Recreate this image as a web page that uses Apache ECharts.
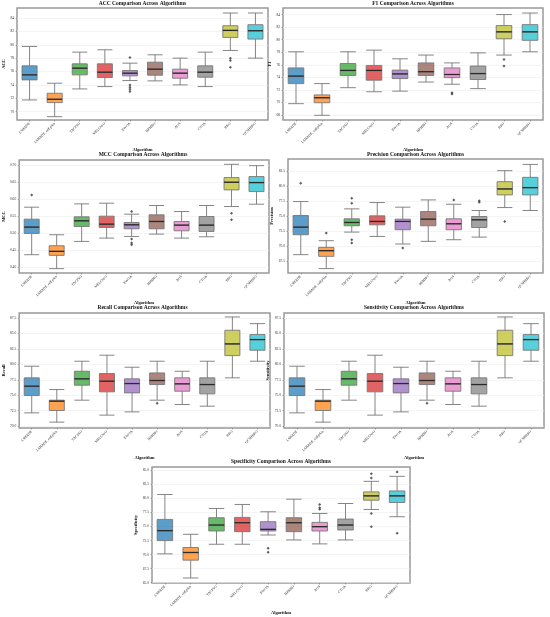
<!DOCTYPE html>
<html lang="en">
<head>
    <meta charset="UTF-8">
    <title>Comparison Across Algorithms</title>
    <script src="https://cdn.jsdelivr.net/npm/echarts@6/dist/echarts.min.js"></script>
    <style>
        html, body { margin: 0; padding: 0; background: #fff; }
    </style>
</head>
<body>
<div id="chart" style="width:550px;height:617px;"></div>
<script>
    var algorithms = ['LSHADE', 'LSHADE_cnEpSin', 'TACPSO', 'MELGWO', 'EWOA', 'HPHHO', 'AOS', 'CTOA', 'BRO', 'QCSHBRO'];
    var boxColors = ['#1f77b4', '#ff7f0e', '#2ca02c', '#d62728', '#9467bd', '#8c564b', '#e377c2', '#7f7f7f', '#bcbd22', '#17becf'];

    // [min, Q1, median, Q3, max] per algorithm
    var accBoxes = [
        [71.75, 74.75, 75.5, 76.85, 79.75],
        [69.25, 71.35, 71.85, 72.75, 74.25],
        [73.4, 75.5, 76.5, 77.15, 78.9],
        [73.75, 75.1, 75.9, 77.15, 79.25],
        [74.65, 75.35, 75.75, 76.15, 77.25],
        [74.6, 75.45, 76.35, 77.4, 78.5],
        [74.0, 75.0, 75.75, 76.35, 78.0],
        [73.75, 75.15, 75.9, 76.85, 78.9],
        [79.15, 81.1, 82.15, 82.85, 84.75],
        [78.0, 80.85, 82.1, 83.0, 84.75]
    ];
    var accOutliers = [[4, 78.1], [4, 74.0], [4, 73.65], [4, 73.35], [4, 73.0], [8, 78.0], [8, 77.65], [8, 76.65]];
    var accTicks = [70, 72, 74, 76, 78, 80, 82, 84];

    var f1Boxes = [
        [69.8, 73.0, 74.2, 75.5, 78.07],
        [67.95, 69.95, 70.75, 71.2, 73.0],
        [72.35, 74.3, 75.1, 76.2, 78.07],
        [71.7, 73.55, 75.1, 75.9, 78.33],
        [71.8, 73.8, 74.55, 75.15, 76.95],
        [73.25, 74.3, 74.9, 76.3, 77.55],
        [72.9, 73.95, 74.45, 75.5, 76.3],
        [72.2, 73.65, 74.6, 75.8, 77.9],
        [77.55, 80.15, 81.25, 82.25, 84.0],
        [78.07, 79.9, 81.25, 82.4, 84.25]
    ];
    var f1Outliers = [[6, 71.55], [6, 71.35], [8, 76.85], [8, 75.8]];
    var f1Ticks = [68, 70, 72, 74, 76, 78, 80, 82, 84];

    var mccBoxes = [
        [0.437, 0.4994, 0.5179, 0.5412, 0.5763],
        [0.3961, 0.4351, 0.4468, 0.4633, 0.4955],
        [0.476, 0.5198, 0.5364, 0.548, 0.586],
        [0.4857, 0.5169, 0.5266, 0.55, 0.588],
        [0.4906, 0.513, 0.5247, 0.5315, 0.5558],
        [0.4974, 0.513, 0.5344, 0.5539, 0.5812],
        [0.4857, 0.5071, 0.5237, 0.5344, 0.5636],
        [0.4896, 0.5052, 0.5237, 0.549, 0.5812],
        [0.5782, 0.627, 0.6494, 0.663, 0.702],
        [0.585, 0.622, 0.6484, 0.666, 0.698]
    ];
    var mccOutliers = [[0, 0.6123], [4, 0.5636], [4, 0.4828], [4, 0.4711], [4, 0.4662], [8, 0.5588], [8, 0.5393]];
    var mccTicks = [0.40, 0.45, 0.50, 0.55, 0.60, 0.65, 0.70];

    var precisionBoxes = [
        [68.6, 71.91, 73.18, 75.11, 77.43],
        [66.28, 68.32, 69.26, 69.81, 70.92],
        [72.35, 73.4, 73.95, 74.56, 76.21],
        [71.63, 73.56, 74.12, 75.05, 77.26],
        [70.37, 72.74, 74.12, 74.5, 76.49],
        [70.81, 73.4, 74.5, 75.77, 77.7],
        [71.08, 72.74, 73.73, 74.56, 76.98],
        [71.52, 73.12, 74.39, 74.94, 75.94],
        [76.43, 78.53, 79.52, 80.73, 82.56],
        [75.94, 78.53, 79.74, 81.45, 83.6]
    ];
    var precisionOutliers = [[0, 80.46], [1, 72.19], [2, 77.98], [2, 77.15], [2, 71.08], [2, 70.53], [4, 69.7], [6, 77.7], [7, 77.54], [7, 77.32], [8, 74.12]];
    var precisionTicks = [67.5, 70.0, 72.5, 75.0, 77.5, 80.0, 82.5];

    var recallBoxes = [
        [72.15, 74.95, 76.46, 77.81, 79.69],
        [70.65, 72.53, 74.04, 74.2, 75.92],
        [74.2, 76.62, 77.65, 78.88, 80.5],
        [71.78, 75.55, 77.27, 78.51, 81.47],
        [72.31, 75.38, 76.89, 77.65, 79.53],
        [74.2, 76.73, 77.38, 78.61, 80.5],
        [73.5, 75.65, 76.84, 77.81, 78.88],
        [73.23, 75.22, 76.73, 77.81, 80.5],
        [77.81, 81.41, 83.3, 85.51, 87.66],
        [80.5, 82.28, 84.0, 84.81, 86.58]
    ];
    var recallOutliers = [[5, 73.71]];
    var recallTicks = [70.0, 72.5, 75.0, 77.5, 80.0, 82.5, 85.0, 87.5];

    // sensitivity is drawn with the same values as recall in the reference
    var sensitivityBoxes = recallBoxes;
    var sensitivityOutliers = recallOutliers;
    var sensitivityTicks = recallTicks;

    var specificityBoxes = [
        [70.14, 72.5, 74.27, 76.27, 80.7],
        [65.84, 69.02, 70.38, 71.26, 73.62],
        [71.85, 74.21, 75.27, 76.57, 78.22],
        [71.85, 74.09, 75.68, 76.63, 78.93],
        [73.5, 74.21, 74.5, 75.86, 77.63],
        [72.62, 74.09, 75.68, 76.57, 79.87],
        [71.91, 74.21, 74.98, 75.74, 77.33],
        [72.62, 74.39, 75.27, 76.33, 79.1],
        [78.04, 79.69, 80.46, 81.17, 83.05],
        [76.75, 79.28, 80.46, 81.34, 83.94]
    ];
    var specificityOutliers = [[4, 71.14], [4, 70.44], [6, 78.93], [6, 78.34], [6, 78.1], [8, 84.41], [8, 83.64], [8, 77.33], [8, 74.98], [9, 84.7], [9, 73.8]];
    var specificityTicks = [65.0, 67.5, 70.0, 72.5, 75.0, 77.5, 80.0, 82.5, 85.0];

    var panels = [
        {name: 'ACC', boxes: accBoxes, outliers: accOutliers, ticks: accTicks, min: 68.75, max: 85.5, dec: 0,
            left: 17, top: 8, width: 251, height: 112, titleTop: 1},
        {name: 'F1', boxes: f1Boxes, outliers: f1Outliers, ticks: f1Ticks, min: 67.2, max: 85.05, dec: 0,
            left: 283, top: 8, width: 260, height: 112, titleTop: 1},
        {name: 'MCC', boxes: mccBoxes, outliers: mccOutliers, ticks: mccTicks, min: 0.3834, max: 0.7146, dec: 2,
            left: 17, top: 160, width: 252, height: 113, titleTop: 152},
        {name: 'Precision', boxes: precisionBoxes, outliers: precisionOutliers, ticks: precisionTicks, min: 65.55, max: 84.5, dec: 1,
            left: 288, top: 159, width: 255, height: 114, titleTop: 152},
        {name: 'Recall', boxes: recallBoxes, outliers: recallOutliers, ticks: recallTicks, min: 69.7, max: 88.3, dec: 1,
            left: 15, top: 313, width: 255, height: 115, titleTop: 305},
        {name: 'Sensitivity', boxes: sensitivityBoxes, outliers: sensitivityOutliers, ticks: sensitivityTicks, min: 69.7, max: 88.3, dec: 1,
            left: 284, top: 313, width: 260, height: 115, titleTop: 305},
        {name: 'Specificity', boxes: specificityBoxes, outliers: specificityOutliers, ticks: specificityTicks, min: 64.95, max: 85.6, dec: 1,
            left: 152, top: 467, width: 258, height: 116, titleTop: 459}
    ];

    var font = 'Liberation Serif';

    function hexToRgba(hex, a) {
        var n = parseInt(hex.slice(1), 16);
        return 'rgba(' + (n >> 16) + ',' + ((n >> 8) & 255) + ',' + (n & 255) + ',' + a + ')';
    }

    var option = {
        backgroundColor: '#fff',
        animation: false,
        title: [], grid: [], xAxis: [], yAxis: [], series: []
    };

    panels.forEach(function (p, k) {
        option.title.push({
            text: p.name + ' Comparison Across Algorithms',
            left: p.left + p.width / 2,
            top: p.titleTop,
            textAlign: 'center',
            padding: 0,
            textStyle: {fontFamily: font, fontSize: 5.5, fontWeight: 'bold', color: '#111'}
        });
        option.grid.push({
            left: p.left, top: p.top, width: p.width, height: p.height,
            show: true, borderColor: '#999', borderWidth: 1.5, backgroundColor: '#fff'
        });
        option.xAxis.push({
            type: 'category', gridIndex: k, data: algorithms,
            name: 'Algorithm', nameLocation: 'middle', nameGap: 27,
            nameTextStyle: {fontFamily: font, fontSize: 4.5, fontWeight: 'bold', color: '#111'},
            axisLine: {show: false},
            axisTick: {show: true, alignWithLabel: true, length: 1.5, lineStyle: {color: '#666', width: 0.5}},
            axisLabel: {rotate: 45, fontFamily: font, fontSize: 3.6, color: '#333', margin: 3, interval: 0},
            splitLine: {show: false}
        });
        option.yAxis.push({
            type: 'value', gridIndex: k, min: p.min, max: p.max,
            name: p.name, nameLocation: 'middle', nameGap: 10,
            nameTextStyle: {fontFamily: font, fontSize: 4.5, fontWeight: 'bold', color: '#111'},
            axisLine: {show: false},
            axisTick: {show: true, customValues: p.ticks, length: 1.5, lineStyle: {color: '#666', width: 0.5}},
            axisLabel: {
                customValues: p.ticks, fontFamily: font, fontSize: 3.6, color: '#333', margin: 3,
                formatter: function (v) { return v.toFixed(p.dec); }
            },
            splitLine: {show: true, lineStyle: {color: '#ececec', width: 0.6}}
        });
        option.series.push({
            type: 'boxplot', xAxisIndex: k, yAxisIndex: k,
            boxWidth: ['60%', '60%'],
            data: p.boxes.map(function (b, i) {
                return {value: b, itemStyle: {color: hexToRgba(boxColors[i], 0.72), borderColor: '#777', borderWidth: 0.9}};
            })
        });
        option.series.push({
            type: 'custom', xAxisIndex: k, yAxisIndex: k, z: 5,
            data: p.boxes.map(function (b, i) { return [i, b[2]]; }),
            encode: {x: 0, y: 1},
            renderItem: function (params, api) {
                var c = api.coord([api.value(0), api.value(1)]);
                var w = api.size([1, 0])[0] * 0.6;
                return {
                    type: 'line',
                    shape: {x1: c[0] - w / 2, y1: c[1], x2: c[0] + w / 2, y2: c[1]},
                    style: {stroke: '#2a2a2a', lineWidth: 1.3}
                };
            }
        });
        option.series.push({
            type: 'scatter', xAxisIndex: k, yAxisIndex: k, z: 6,
            symbol: 'diamond', symbolSize: 3,
            itemStyle: {color: '#333'},
            data: p.outliers
        });
    });

    var myChart = echarts.init(document.getElementById('chart'));
    myChart.setOption(option);
</script>
</body>
</html>
